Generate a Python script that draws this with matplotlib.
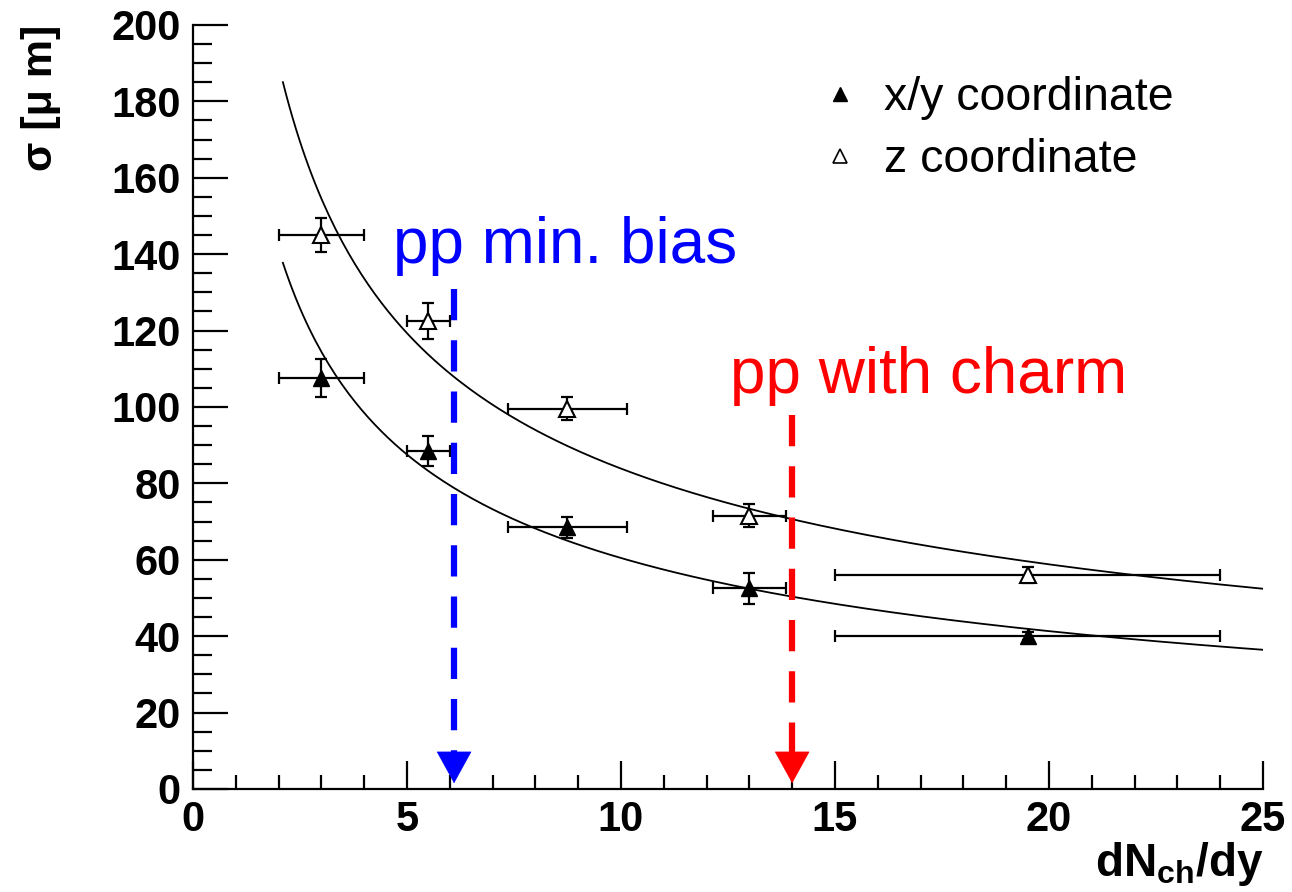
import numpy as np
import matplotlib
matplotlib.use('Agg')
import matplotlib.pyplot as plt
from matplotlib.lines import Line2D

plt.rcParams['font.family'] = ['Liberation Sans', 'DejaVu Sans']
plt.rcParams['mathtext.fontset'] = 'custom'
plt.rcParams['mathtext.rm'] = 'Liberation Sans:bold'
plt.rcParams['mathtext.bf'] = 'Liberation Sans:bold'
plt.rcParams['mathtext.it'] = 'Liberation Sans:bold'

# measured points (same multiplicity bins for both coordinates)
dndy = [3.0, 5.5, 8.75, 13.0, 19.5]
dndy_err = [1.0, 0.5, 1.4, 0.85, 4.5]
sigma_xy = [107.5, 88.5, 68.5, 52.5, 40.0]
sigma_xy_err = [5.0, 4.0, 2.7, 4.0, 1.0]
sigma_z = [145.0, 122.5, 99.5, 71.5, 56.0]
sigma_z_err = [4.5, 4.6, 3.0, 3.0, 2.0]

# fit  p0/sqrt(x) + p1
fit_xy = (206.7, -4.9)
fit_z = (270.6, -1.7)
fit_range = (2.1, 25.0)

# multiplicity markers
minbias_x, minbias_top = 6.1, 131
charm_x, charm_top = 14.0, 98

fig = plt.figure(figsize=(12.92, 8.92), dpi=100)
ax = fig.add_axes([0.1494, 0.1155, 0.8281, 0.8565])

xx = np.linspace(fit_range[0], fit_range[1], 300)
ax.plot(xx, fit_xy[0] / np.sqrt(xx) + fit_xy[1], color='black', lw=1.3, zorder=2)
ax.plot(xx, fit_z[0] / np.sqrt(xx) + fit_z[1], color='black', lw=1.3, zorder=2)

ax.errorbar(dndy, sigma_xy, xerr=dndy_err, yerr=sigma_xy_err, fmt='none',
            ecolor='black', elinewidth=1.6, capsize=4.5, capthick=1.6, zorder=3)
ax.errorbar(dndy, sigma_z, xerr=dndy_err, yerr=sigma_z_err, fmt='none',
            ecolor='black', elinewidth=1.6, capsize=4.5, capthick=1.6, zorder=3)
ax.plot(dndy, sigma_xy, linestyle='none', marker='^', markersize=12,
        color='black', zorder=4)
ax.plot(dndy, sigma_z, linestyle='none', marker='^', markersize=12,
        markerfacecolor='white', markeredgecolor='black', markeredgewidth=1.5, zorder=4)

# dashed arrows
for xpos, ytop, col in [(minbias_x, minbias_top, 'blue'), (charm_x, charm_top, 'red')]:
    ax.plot([xpos, xpos], [ytop, 9.5], color=col, lw=4.5, linestyle=(0, (5, 3.2)), zorder=5)
    ax.annotate('', xy=(xpos, 1.5), xytext=(xpos, 10),
                arrowprops=dict(arrowstyle='-|>,head_length=1.0,head_width=0.55',
                                color=col, lw=0.5, mutation_scale=22, shrinkA=0, shrinkB=0),
                zorder=5)
ax.text(4.67, 137.7, 'pp min. bias', color='blue', fontsize=46, ha='left', va='baseline')
ax.text(12.55, 103.7, 'pp with charm', color='red', fontsize=46, ha='left', va='baseline')

handles = [Line2D([], [], linestyle='none', marker='^', markersize=10, color='black'),
           Line2D([], [], linestyle='none', marker='^', markersize=10,
                  markerfacecolor='white', markeredgecolor='black', markeredgewidth=1.2)]
ax.legend(handles, ['x/y coordinate', 'z coordinate'], loc='upper left',
          bbox_to_anchor=(0.5935, 0.933), frameon=False, fontsize=33.5,
          handlelength=0.5, handletextpad=0.7, labelspacing=0.38, borderpad=0,
          borderaxespad=0)

ax.set_xlim(0, 25)
ax.set_ylim(0, 200)
ax.set_xticks(np.arange(0, 26, 5))
ax.set_xticks(np.arange(0, 26, 1), minor=True)
ax.set_yticks(np.arange(0, 201, 20))
ax.set_yticks(np.arange(0, 201, 5), minor=True)
for s in ['top', 'right']:
    ax.spines[s].set_visible(False)
for s in ['left', 'bottom']:
    ax.spines[s].set_linewidth(1.6)
ax.tick_params(axis='both', which='both', direction='in', width=1.6)
ax.tick_params(axis='y', which='major', length=25, pad=9)
ax.tick_params(axis='y', which='minor', length=14)
ax.tick_params(axis='x', which='major', length=20, pad=8)
ax.tick_params(axis='x', which='minor', length=10)
for lab in ax.get_xticklabels() + ax.get_yticklabels():
    lab.set_fontsize(30)
    lab.set_fontweight('bold')

ax.set_xlabel(r'$\mathbf{dN_{ch}/dy}$', fontsize=33, loc='right', labelpad=0)
ax.set_ylabel('σ [μ m]', fontsize=31, fontweight='bold', loc='top', labelpad=36)

plt.savefig('out.png', dpi=100)
